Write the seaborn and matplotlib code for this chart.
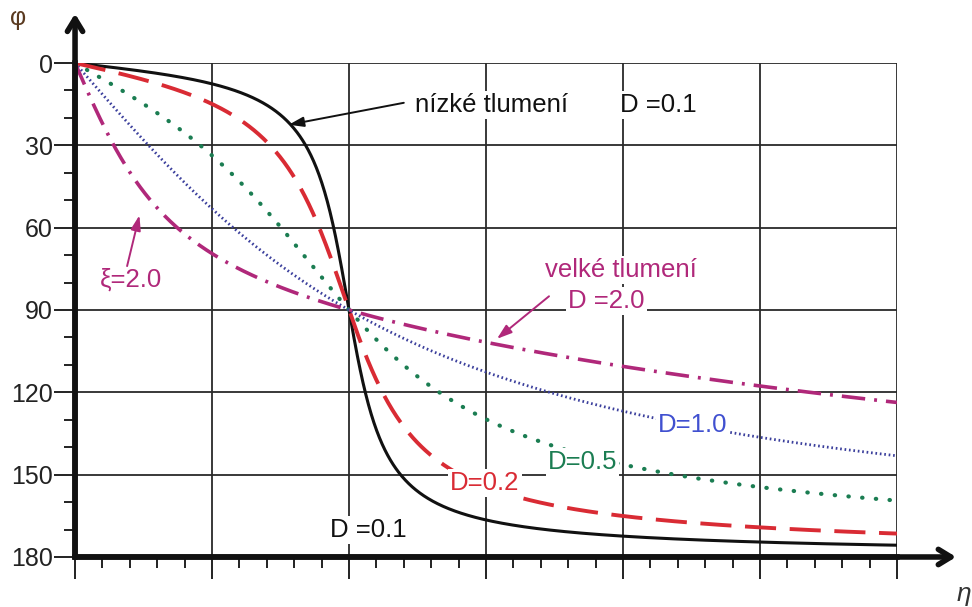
import numpy as np
import pandas as pd
import matplotlib
matplotlib.use("Agg")
import matplotlib.pyplot as plt
import seaborn as sns

# Damping ratios of the plotted phase responses
damping = [0.1, 0.2, 0.5, 1.0, 2.0]
colors = ["#111111", "#d92b34", "#1b7d52", "#3b3f9c", "#b0287a"]
y_ticks = [0, 30, 60, 90, 120, 150, 180]
eta_max = 3.0

# Phase lag of a damped oscillator: phi = atan2(2 D eta, 1 - eta^2)
eta = np.linspace(0.0, eta_max, 1200)
frames = []
for d in damping:
    phi = np.degrees(np.arctan2(2 * d * eta, 1 - eta ** 2))
    frames.append(pd.DataFrame({"eta": eta, "phi": phi, "D": d}))
df = pd.concat(frames, ignore_index=True)

sns.set_style("white")
plt.rcParams["font.family"] = ["Liberation Sans", "DejaVu Sans"]

fig = plt.figure(figsize=(9.72, 6.07), dpi=100)
ax = fig.add_axes([0.0772, 0.0824, 0.8456, 0.8138])

styles = {
    0.1: dict(lw=2.2, ls="-"),
    0.2: dict(lw=2.8, ls=(0, (8, 3.5))),
    0.5: dict(lw=3.0, ls=(0, (0.1, 3.2)), solid_capstyle="round", dash_capstyle="round"),
    1.0: dict(lw=2.0, ls=(0, (0.6, 1.0))),
    2.0: dict(lw=2.6, ls=(0, (6.5, 2.5, 0.8, 2.5))),
}
for d, c in zip(damping, colors):
    sub = df[df["D"] == d]
    sns.lineplot(data=sub, x="eta", y="phi", color=c, ax=ax, legend=False,
                 zorder=3, **styles[d])

ax.set_xlim(0, eta_max)
ax.set_ylim(180, 0)
ax.set_xlabel("")
ax.set_ylabel("")

ax.set_yticks(y_ticks)
ax.set_yticks(np.arange(0, 181, 10), minor=True)
ax.set_xticks(np.arange(0, eta_max + 0.01, 0.5))
ax.set_xticks(np.arange(0, eta_max + 0.01, 0.1), minor=True)
ax.set_xticklabels([])
ax.tick_params(axis="y", which="major", length=15, width=1.4, labelsize=18,
               colors="#222222", pad=1, left=True)
ax.tick_params(axis="y", which="minor", length=8, width=1.4, left=True, color="#222222")
ax.tick_params(axis="x", which="major", length=16, width=1.4, bottom=True, color="#222222")
ax.tick_params(axis="x", which="minor", length=8, width=1.4, bottom=True, color="#222222")

ax.grid(True, which="major", color="#2a2a2a", lw=1.3)
for s in ["top", "right"]:
    ax.spines[s].set_visible(False)
for s in ["left", "bottom"]:
    ax.spines[s].set_linewidth(4)
    ax.spines[s].set_color("#111111")
    ax.spines[s].set_zorder(5)

# Axis arrows
ax.annotate("", xy=(0, 1.100), xytext=(0, 0.0), xycoords="axes fraction",
            arrowprops=dict(arrowstyle="->,head_length=0.9,head_width=0.55",
                            lw=4, color="#111111", shrinkA=0, shrinkB=0),
            annotation_clip=False)
ax.annotate("", xy=(1.072, 0), xytext=(0.0, 0), xycoords="axes fraction",
            arrowprops=dict(arrowstyle="->,head_length=0.9,head_width=0.55",
                            lw=4, color="#111111", shrinkA=0, shrinkB=0),
            annotation_clip=False)
fig.text(0.010, 0.970, "φ", fontsize=18, color="#5a3a20", ha="left", va="center")
fig.text(0.999, 0.022, "η", fontsize=19, color="#333333", ha="right", va="center",
         style="italic")

white = dict(facecolor="white", edgecolor="none", pad=1.5)
fs = 18.5

def label(x, y, s, color, **kw):
    ax.text(x, y, s, color=color, fontsize=fs, ha="left", va="center",
            bbox=white, zorder=6, **kw)

label(1.24, 15.3, "nízké tlumení", "#111111")
label(1.99, 15.3, "D =0.1", "#111111")
label(0.09, 79.0, "ξ=2.0", colors[4])
label(1.715, 75.4, "velké tlumení", colors[4])
label(1.80, 86.6, "D =2.0", colors[4])
label(2.128, 131.9, "D=1.0", "#4050d0")
label(1.726, 145.4, "D=0.5", colors[2])
label(1.369, 152.9, "D=0.2", colors[1])
label(0.93, 170.2, "D =0.1", "#111111")

arrow_kw = dict(arrowstyle="-|>,head_length=0.9,head_width=0.3", lw=1.4,
                shrinkA=0, shrinkB=0)
ax.annotate("", xy=(0.78, 22.5), xytext=(1.20, 14.5),
            arrowprops=dict(color="#111111", **arrow_kw), zorder=7)
ax.annotate("", xy=(0.235, 55.5), xytext=(0.19, 74.0),
            arrowprops=dict(color=colors[4], **arrow_kw), zorder=7)
ax.annotate("", xy=(1.54, 100.5), xytext=(1.73, 85.0),
            arrowprops=dict(color=colors[4], **arrow_kw), zorder=7)

fig.savefig("out.png", dpi=100)
